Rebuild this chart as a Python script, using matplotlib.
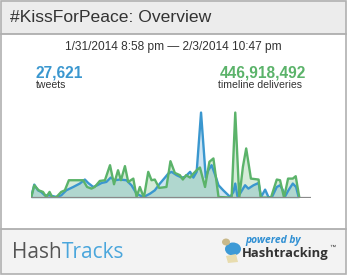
import matplotlib.pyplot as plt
from matplotlib.patches import Rectangle, Ellipse, Polygon

# hours since 1/31/2014 8:58 pm, value as % of each series' peak
tweet_hours = [0, 0.9, 1.9, 2.8, 3.8, 5.1, 7.0, 8.3, 9.7, 11.6, 13.4, 14.8, 15.7,
               17.1, 18.2, 19.4, 20.7, 21.9, 23.0, 24.4, 26.2, 27.6, 29.0, 30.4,
               31.3, 32.7, 34.0, 35.4, 36.8, 37.7, 38.6, 40.0, 41.4, 42.3, 43.7,
               44.6, 45.5, 46.7, 48.0, 48.7, 49.6, 50.6, 51.5, 52.8, 54.7, 55.6,
               56.1, 56.7, 57.4, 58.8, 59.7, 61.1, 62.5, 63.2, 64.3, 65.2, 66.1,
               67.5, 68.4, 69.2, 69.8, 70.7, 71.9, 72.8, 73.5]
tweets = [0, 15.7, 9.0, 7.1, 3.1, 3.1, 1.2, 3.1, 9.0, 12.9, 16.9, 21.6, 17.6,
          12.9, 14.9, 17.6, 18.8, 23.9, 20.8, 21.6, 20.8, 14.9, 5.1, 2.0,
          2.0, 5.1, 9.0, 16.9, 23.9, 28.6, 30.6, 26.7, 23.9, 24.7, 30.6,
          23.9, 30.6, 100, 23.9, 32.5, 38.4, 26.7, 14.9, 9.0, 1.2, 7.1,
          16.9, 2.0, 5.1, 14.9, 11.0, 14.9, 17.6, 1.2, 9.8, 1.2, 0.4,
          12.9, 14.9, 9.0, 2.0, 9.0, 16.9, 12.9, 1.2]

delivery_hours = [0, 0.9, 2.1, 3.3, 4.2, 5.1, 5.9, 7.0, 8.3, 9.3, 10.4, 14.3,
                  15.4, 16.6, 17.5, 18.9, 20.3, 21.7, 22.8, 23.9, 24.7, 25.8,
                  26.7, 28.1, 29.0, 29.9, 31.0, 32.2, 33.1, 34.0, 35.2, 37.2,
                  38.3, 39.5, 40.9, 41.7, 42.6, 43.7, 44.6, 45.5, 46.4, 47.8,
                  49.0, 50.1, 51.5, 55.1, 56.1, 57.2, 58.2, 59.1, 60.4, 62.5,
                  63.1, 65.9, 67.5, 68.4, 69.5, 70.6, 71.9, 72.7, 73.7]
deliveries = [0, 14.9, 9.0, 7.1, 1.2, 7.1, 0.4, 1.2, 7.1, 9.0, 20.8, 20.8,
              12.9, 11.0, 12.9, 20.0, 20.8, 38.4, 16.1, 32.5, 20.8, 37.3,
              18.8, 22.7, 1.2, 12.9, 0.4, 30.6, 20.8, 21.6, 11.8, 12.9,
              43.1, 29.4, 26.7, 21.6, 26.7, 23.9, 28.6, 32.5, 35.7, 12.9,
              42.4, 46.3, 1.2, 0.4, 100, 0.4, 36.5, 58.0, 22.7, 21.6,
              0.4, 0.4, 21.6, 20.8, 0.4, 22.7, 22.7, 25.5, 0.4]

title = "#KissForPeace: Overview"
date_range = "1/31/2014 8:58 pm \u2014 2/3/2014 10:47 pm"
total_tweets = "27,621"
total_deliveries = "446,918,492"

W, H = 348, 276
blue = "#3a97cf"
green = "#5bb36a"

fig = plt.figure(figsize=(W / 100, H / 100), dpi=100)
fig.patch.set_facecolor("white")
plt.rcParams['font.family'] = ['Liberation Sans', 'DejaVu Sans']

def fx(x):
    return x / W

def fy(y):
    return 1 - y / H

# header, footer and border
fig.patches.append(Rectangle((fx(1), fy(34)), fx(345), 34 / H, transform=fig.transFigure,
                             facecolor="#ececec", edgecolor="none", zorder=0))
fig.patches.append(Rectangle((fx(1), fy(274)), fx(345), 45 / H, transform=fig.transFigure,
                             facecolor="#f3f3f3", edgecolor="none", zorder=0))
for y in (34, 229):
    fig.add_artist(plt.Line2D([fx(1), fx(346)], [fy(y), fy(y)], color="#a8a8a8", lw=1.2))
fig.patches.append(Rectangle((fx(1), fy(274)), fx(345), 273 / H, transform=fig.transFigure,
                             facecolor="none", edgecolor="#b0b0b0", lw=1.2, zorder=5))

fig.text(fx(10), fy(17), title, fontsize=12.6, color="#333333", va="center", ha="left")
fig.text(fx(173), fy(47), date_range, fontsize=8.6, color="#333333", va="center", ha="center")
fig.text(fx(36), fy(73), total_tweets, fontsize=11.2, fontweight="bold", color=blue,
         va="center", ha="left")
fig.text(fx(36), fy(84.5), "tweets", fontsize=7.6, color="#333333", va="center", ha="left")
fig.text(fx(306), fy(73), total_deliveries, fontsize=11.2, fontweight="bold", color=green,
         va="center", ha="right")
fig.text(fx(218), fy(84.5), "timeline deliveries", fontsize=7.6, color="#333333",
         va="center", ha="left")

# chart
ax = fig.add_axes([fx(31), fy(198), fx(280), 88 / H])
ax.fill_between(tweet_hours, tweets, color=blue, alpha=0.25, lw=0)
ax.fill_between(delivery_hours, deliveries, color=green, alpha=0.25, lw=0)
ax.plot(tweet_hours, tweets, color=blue, lw=1.7, solid_joinstyle="round")
ax.plot(delivery_hours, deliveries, color=green, lw=1.7, solid_joinstyle="round")
ax.axhline(0, color="#8a8a8a", lw=1.6)
ax.set_xlim(0, 76.9)
ax.set_ylim(0, 103)
ax.axis("off")

# footer logos
t1 = fig.text(fx(12), fy(252), "Hash", fontsize=15, color="#555555", va="center",
              ha="left", family="Open Sans")
t2 = fig.text(fx(242), fy(253), "Hashtracking", fontsize=9.4, fontweight="bold",
              color="#333333", va="center", ha="left", family="Open Sans")
fig.canvas.draw()
bb = t1.get_window_extent()
fig.text(bb.x1 / W, fy(252), "Tracks", fontsize=15, color="#4aa6dc", va="center",
         ha="left", family="Open Sans")
bb2 = t2.get_window_extent()
fig.text((bb2.x1 + 0.8) / W, fy(247), "\u2122", fontsize=4.6, color="#333333",
         va="center", ha="left")

fig.add_artist(Ellipse((fx(233), fy(249)), 16 / W, 13 / H, transform=fig.transFigure,
                       facecolor="#3d9ad6", edgecolor="none"))
fig.add_artist(Ellipse((fx(226), fy(242)), 8 / W, 7 / H, transform=fig.transFigure,
                       facecolor="#c9b98a", edgecolor="none"))
fig.add_artist(Polygon([(fx(226), fy(256)), (fx(236), fy(254)), (fx(238), fy(262)),
                        (fx(228), fy(263))], closed=True, transform=fig.transFigure,
                       facecolor="#e8dcae", edgecolor="none"))
fig.text(fx(245), fy(241), "powered by", fontsize=7.4, style="italic", fontweight="bold",
         color="#2f8fd3", va="center", ha="left", family="Open Sans")

fig.savefig("out.png", dpi=100)
